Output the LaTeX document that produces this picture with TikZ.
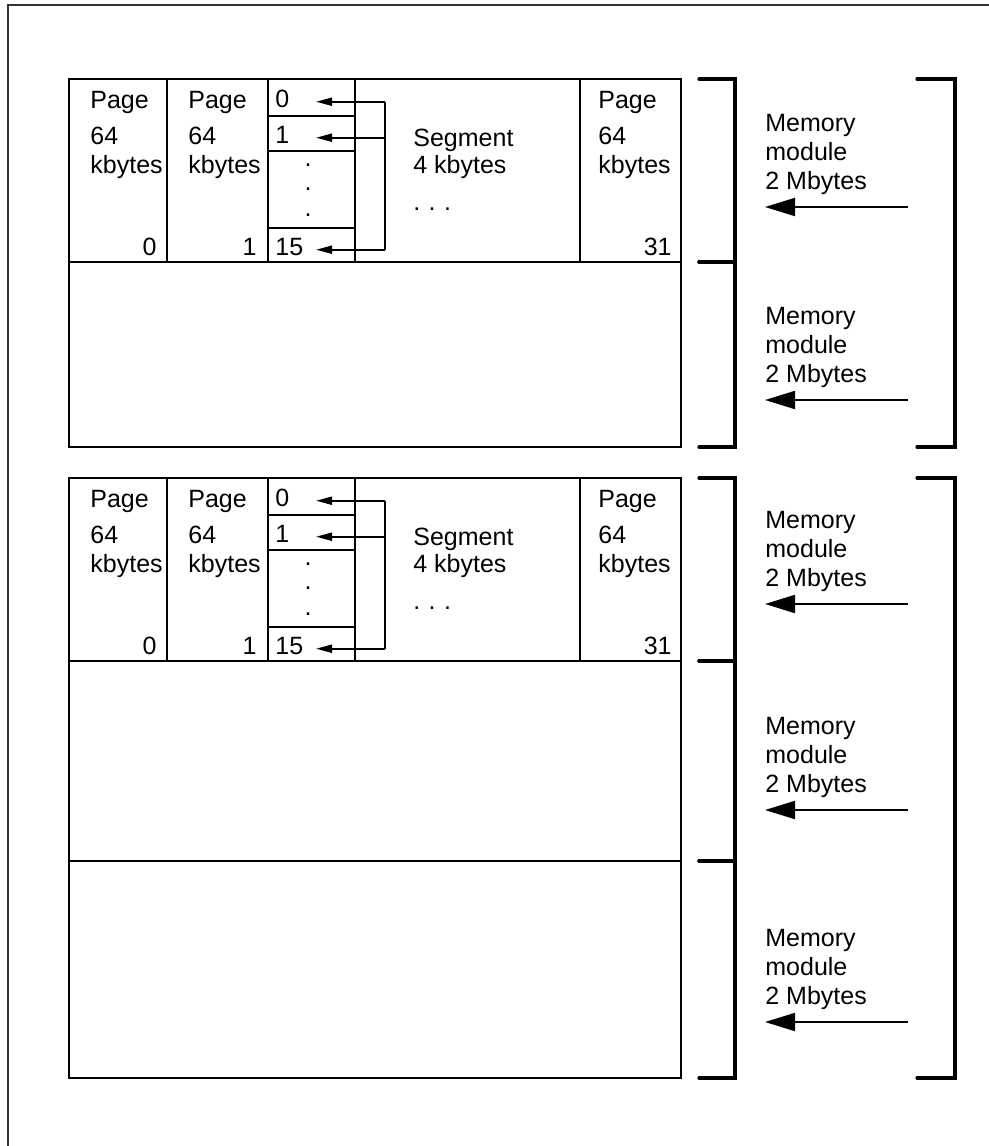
\documentclass[tikz,border=0pt]{standalone}
\usepackage{fontspec}
\setmainfont{Liberation Sans}
\usetikzlibrary{arrows.meta,positioning}
\tikzset{
  mmtxt/.style={inner sep=0pt,anchor=base west,font=\fontsize{12.5}{15}\selectfont},
  mmnum/.style={mmtxt,anchor=base east},
  mmbox/.style={draw,line width=1.2pt},
  mmbrace/.style={draw,line width=1.6pt,line cap=round},
  mmframe/.style={draw=black!80,line width=0.6pt},
  mmlink/.style={draw,line width=1pt},
  mmcell/.style={mmlink,-{Triangle[length=8pt,width=4pt]}},
  mmin/.style={mmlink,-{Triangle[length=15pt,width=9pt]}},
}

\begin{document}
\begin{tikzpicture}[x=0.5pt,y=-0.5pt]
  \useasboundingbox (0,0) rectangle (989,1146);
  \draw[mmframe] (989,5) -- (8,5) -- (8,1146);

  % two memory blocks
  \foreach \bk/\yt/\bh in {1/79/368, 2/478/600} {
    \begin{scope}[shift={(0,\yt)}]
      \draw[mmbox] (69,0) rectangle (681,\bh);
      \draw[mmbox] (69,183) -- (681,183);
      \foreach \x in {167,268,355,580} \draw[mmbox] (\x,0) -- (\x,183);
      \foreach \y in {37,72,149} \draw[mmbox] (268,\y) -- (355,\y);
      \foreach \c/\x in {A/90,B/188,C/598} {
        \node[mmtxt] (pg\c-\bk) at (\x,29) {Page};
        \node[mmtxt] (sz\c-\bk) at (\x,65) {64};
        \node[mmtxt] (un\c-\bk) at (\x,94) {kbytes};
      }
      \node[mmnum] (n0-\bk) at (157,176) {0};
      \node[mmnum] (n1-\bk) at (257,176) {1};
      \node[mmnum] (n31-\bk) at (672,176) {31};
      \foreach \c/\y in {0/28,1/64,15/176} \node[mmtxt] (c\c-\bk) at (275,\y) {\c};
      \foreach \d/\y in {1/87,2/111,3/137} \node[mmtxt,anchor=base] (dot\d-\bk) at (308,\y) {.};
      \node[mmtxt] (seg-\bk) at (413,67) {Segment};
      \node[mmtxt] (segsz-\bk) at (413,94) {4 kbytes};
      \node[mmtxt] (segdots-\bk) at (413,131) {.\hspace{4.2pt}.\hspace{4.2pt}.};
      \coordinate (bus-\bk) at (385,0);
      \coordinate (tip-\bk) at (316,0);
      \draw[mmlink] (bus-\bk |- c0-\bk.mid) -- (bus-\bk |- c15-\bk.mid);
      \foreach \c in {0,1,15} \draw[mmcell] (bus-\bk |- c\c-\bk.mid) -- (tip-\bk |- c\c-\bk.mid);
    \end{scope}
  }
  \draw[mmbox] (69,861) -- (681,861);

  % modules
  \foreach \m/\ya in {1/207, 2/400, 3/604, 4/810, 5/1022} {
    \node[mmtxt] (mem\m) at (765,\ya-76) {Memory};
    \node[mmtxt] (mod\m) at (765,\ya-47) {module};
    \node[mmtxt] (size\m) at (765,\ya-18) {2 Mbytes};
    \coordinate (in\m) at (908,\ya);
    \draw[mmin] (in\m) -- (mem\m.west |- in\m);
  }
  \foreach \t/\u in {79/262, 262/447, 478/661, 661/861, 861/1078}
    \draw[mmbrace] (699,\t) -- (735,\t) -- (735,\u) -- (699,\u);
  \foreach \t/\u in {79/447, 478/1078}
    \draw[mmbrace] (917,\t) -- (955,\t) -- (955,\u) -- (917,\u);
\end{tikzpicture}
\end{document}
